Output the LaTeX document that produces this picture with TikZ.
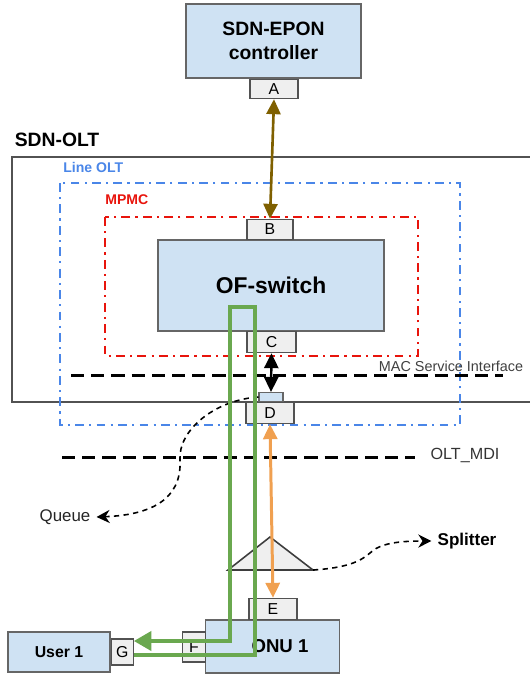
\documentclass[tikz,border=0pt]{standalone}
\usepackage{fontspec}
\setmainfont{Liberation Sans}
\usetikzlibrary{arrows.meta}
\definecolor{boxblue}{HTML}{CFE2F3}
\definecolor{portgray}{HTML}{EFEFEF}
\definecolor{edgegray}{HTML}{666666}
\definecolor{oltblue}{HTML}{4A86E8}
\definecolor{mpmcred}{HTML}{E8140C}
\definecolor{ctrlbrown}{HTML}{7F6000}
\definecolor{optorange}{HTML}{F0A050}
\definecolor{pathgreen}{HTML}{6AA84F}
\tikzset{
  box/.style={draw=edgegray, fill=boxblue, line width=0.8pt, font=\bfseries, align=center, inner sep=0pt},
  port/.style={draw=edgegray!80!black, fill=portgray, line width=0.7pt, font=\fontsize{9}{10}\selectfont, inner sep=0pt},
  dashdot/.style={line width=1.5pt, dash pattern=on 5pt off 3pt on 1.2pt off 3pt},
  ifline/.style={line width=1.7pt, dash pattern=on 7.5pt off 4pt},
  curvy/.style={line width=0.9pt, dash pattern=on 3pt off 2.5pt, -{Stealth[length=7.5pt,width=7.5pt]}},
  bihead/.style={{Triangle[length=8.5pt,width=8pt]}-{Triangle[length=8.5pt,width=8pt]}}
}
\begin{document}
\begin{tikzpicture}[x=0.02cm, y=-0.02cm]
    \useasboundingbox (0,0) rectangle (529,677);
    \draw[edgegray!80!black, line width=0.8pt] (12,157) rectangle (540,402);
    \node[font=\fontsize{11}{13}\selectfont\bfseries] (oltlbl) at (57,140) {SDN-OLT};
    \draw[oltblue, dashdot] (60,183) rectangle (460,425);
    \node[oltblue, anchor=west, font=\fontsize{8}{10}\selectfont\bfseries, inner sep=0pt] (linelbl) at (63,167) {Line OLT};
    \draw[mpmcred, dashdot] (105,217) rectangle (418,356);
    \node[mpmcred, anchor=west, font=\fontsize{8}{10}\selectfont\bfseries, inner sep=0pt] (mpmclbl) at (105,200) {MPMC};
    \node[box, minimum width=3.5cm, minimum height=1.48cm, font=\fontsize{11}{14}\selectfont\bfseries] (ctrl) at (273.5,41) {SDN-EPON\\controller};
    \node[port, minimum width=0.96cm, minimum height=0.38cm, anchor=north] (portA) at (274,79) {A};
    \node[box, minimum width=4.52cm, minimum height=1.82cm, font=\fontsize{13}{15}\selectfont\bfseries] (ofsw) at (271,285.5) {OF-switch};
    \node[port, minimum width=0.92cm, minimum height=0.4cm, anchor=south] (portB) at (270,240) {B};
    \node[port, minimum width=0.98cm, minimum height=0.42cm, anchor=north] (portC) at (271.5,331) {C};
    \node[port, minimum width=0.96cm, minimum height=0.42cm, anchor=north] (portD) at (270,402) {D};
    \node[draw=edgegray, fill=boxblue, line width=0.6pt, minimum width=0.48cm, minimum height=0.18cm, inner sep=0pt, anchor=south] (dtop) at (271,402) {};
    \draw[ifline] (71,375) -- (503,375);
    \node[font=\fontsize{8.2}{10}\selectfont, text=black!75] (maclbl) at (451,366) {MAC Service Interface};
    \draw[ifline] (62,457) -- (415,457);
    \node[font=\fontsize{9.2}{11}\selectfont, text=black!80] (mdilbl) at (465,455) {OLT\_MDI};
    \node[font=\fontsize{9.6}{11}\selectfont, text=black!85] (queue) at (65,517) {Queue};
    \node[font=\fontsize{9.7}{11}\selectfont\bfseries] (splitlbl) at (467,541) {Splitter};
    \draw[edgegray!60!black, fill=portgray, line width=0.9pt] (228,570) coordinate (sl) -- (270,537) coordinate (stop) -- (313,570) coordinate (sr) -- cycle;
    \node[box, minimum width=2.68cm, minimum height=1.06cm, font=\fontsize{10.6}{12}\selectfont\bfseries] (onu) at (272.5,646.5) {\hspace{0.3cm}ONU 1};
    \node[port, minimum width=0.96cm, minimum height=0.42cm, anchor=south] (portE) at (273,620) {E};
    \node[port, minimum width=0.46cm, minimum height=0.6cm, anchor=east] (portF) at (206,647) {F};
    \node[box, minimum width=2.04cm, minimum height=0.8cm, font=\fontsize{9}{11}\selectfont\bfseries] (user) at (59,652) {User 1};
    \node[port, minimum width=0.44cm, minimum height=0.52cm, anchor=west] (portG) at (user.east) {G};
    \draw[ctrlbrown, line width=1.5pt, bihead] (portA.south) -- (portB.north);
    \draw[black, line width=1.4pt, bihead] (portC.south) -- (dtop.north);
    \draw[optorange, line width=1.7pt, bihead] (portD.south) -- (portE.north);
    \draw[curvy] (dtop.west) .. controls (215,400) and (178,430) .. (180,460) .. controls (182,500) and (150,515) .. (queue.east);
    \draw[curvy] (sr) .. controls (345,568) and (360,562) .. (370,553) .. controls (380,543) and (400,541) .. (splitlbl.west);
    \coordinate (gin) at (portG.east |- 0,641);
    \coordinate (gout) at (portG.east |- 0,655);
    \draw[pathgreen, line width=2pt, -{Triangle[length=10pt,width=11pt]}] (gout) -- (255,655) -- (255,307) -- (230,307) -- (230,641) -- (gin);
  \end{tikzpicture}
\end{document}
